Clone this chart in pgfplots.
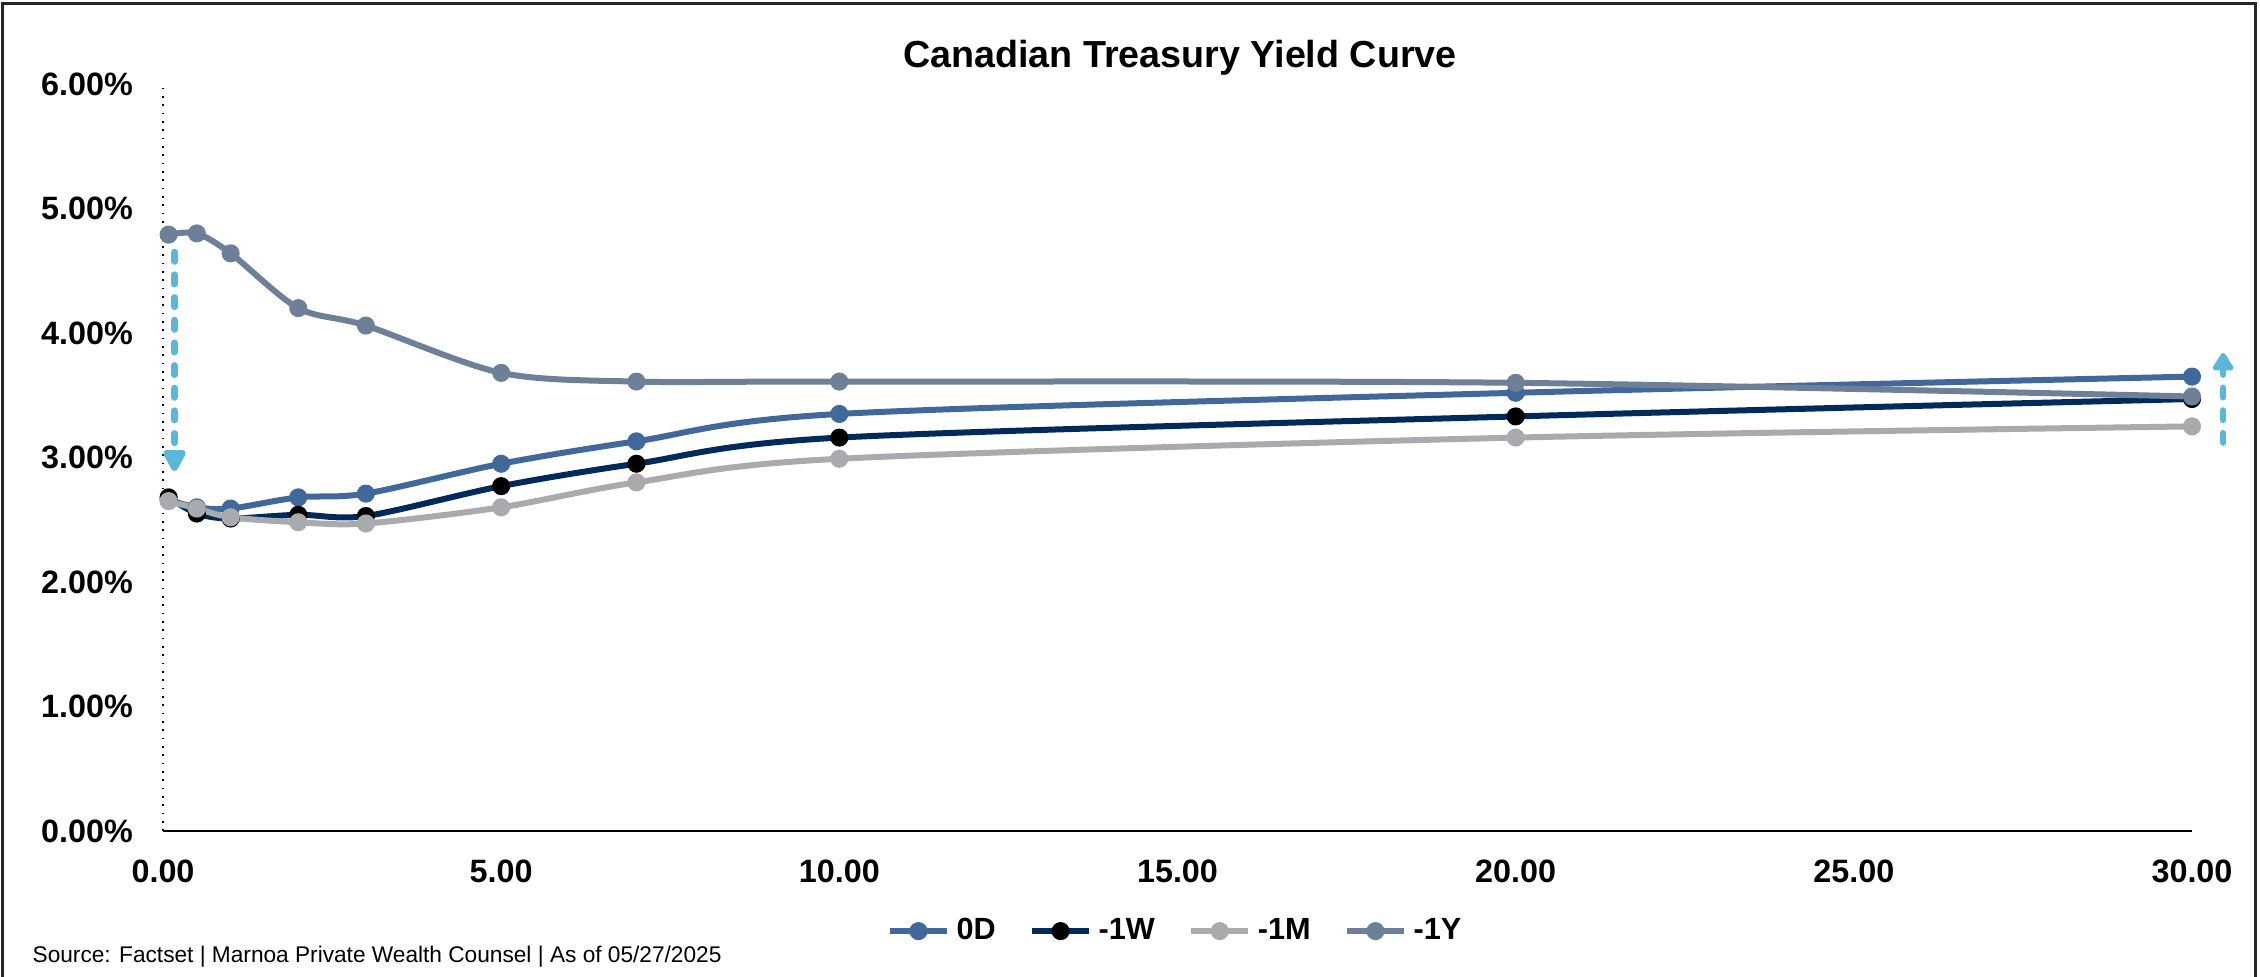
\documentclass[border=0pt]{standalone}
\usepackage{pgfplots}
\pgfplotsset{compat=1.18}
\usetikzlibrary{arrows.meta}
\usepackage{fontspec}
\setmainfont{Liberation Sans}

\definecolor{cD}{HTML}{41689B}
\definecolor{cW}{HTML}{002A5A}
\definecolor{cM}{HTML}{A8AAAE}
\definecolor{cY}{HTML}{6D8098}
\definecolor{cArrow}{HTML}{5BB7DA}

\begin{document}
\begin{tikzpicture}
% chart area and its frame
\path[use as bounding box] (0,0) rectangle (678pt,292.8pt);
\draw[line width=0.9pt, black!85] (0.9pt,-2pt) -- (0.9pt,291.9pt) -- (676.5pt,291.9pt) -- (676.5pt,-2pt);

\node[font=\bfseries\fontsize{11.3}{13}\selectfont] at (354pt,275.4pt) {Canadian Treasury Yield Curve};
\node[font=\fontsize{6.8}{8}\selectfont, anchor=west, inner sep=0pt] at (9.6pt,5.7pt) {Source: Factset | Marnoa Private Wealth Counsel | As of 05/27/2025};

\begin{axis}[
  at={(48.9pt,43.5pt)}, anchor=south west,
  scale only axis, width=608.7pt, height=224.1pt,
  xmin=0, xmax=30, ymin=0, ymax=6,
  clip=false,
  axis lines=left,
  x axis line style={-, black, line width=0.7pt},
  y axis line style={-, black, dotted, line width=0.5pt},
  major tick length=0pt,
  xtick={0,5,10,15,20,25,30},
  ytick={0,1,2,3,4,5,6},
  /pgf/number format/assume math mode=true,
  xticklabel={\pgfmathprintnumber[fixed,fixed zerofill,precision=2]{\tick}},
  yticklabel={\pgfmathprintnumber[fixed,fixed zerofill,precision=2]{\tick}\%},
  tick label style={font=\bfseries\fontsize{9.7}{12}\selectfont},
  yticklabel style={xshift=-5.5pt},
  xticklabel style={yshift=-5pt},
  legend columns=4,
  legend style={at={(0.5,-0.134)}, anchor=center, draw=none, fill=none,
    font=\bfseries\fontsize{9.2}{11}\selectfont,
    /tikz/every odd column/.append style={column sep=0pt},
    /tikz/every even column/.append style={column sep=8pt}},
  legend image code/.code={
    \draw[mark repeat=2,mark phase=2,#1] plot coordinates {(0cm,0cm) (0.3cm,0cm) (0.6cm,0cm)};},
  every axis plot/.append style={line width=1.8pt, smooth},
]
\addplot[cD, mark=*, mark options={fill=cD, draw=cD, scale=0.9}] coordinates {
 (0.083,2.66) (0.5,2.60) (1,2.59) (2,2.68) (3,2.71) (5,2.95) (7,3.13) (10,3.35) (20,3.52) (30,3.65)};
\addlegendentry{0D}
\addplot[cW, mark=*, mark options={fill=black, draw=black, scale=0.9}] coordinates {
 (0.083,2.68) (0.5,2.55) (1,2.51) (2,2.54) (3,2.53) (5,2.77) (7,2.95) (10,3.16) (20,3.33) (30,3.47)};
\addlegendentry{-1W}
\addplot[cM, mark=*, mark options={fill=cM, draw=cM, scale=0.9}] coordinates {
 (0.083,2.65) (0.5,2.59) (1,2.52) (2,2.48) (3,2.47) (5,2.60) (7,2.80) (10,2.99) (20,3.16) (30,3.25)};
\addlegendentry{-1M}
\addplot[cY, mark=*, mark options={fill=cY, draw=cY, scale=0.9}] coordinates {
 (0.083,4.79) (0.5,4.80) (1,4.64) (2,4.20) (3,4.06) (5,3.68) (7,3.61) (10,3.61) (20,3.60) (30,3.49)};
\addlegendentry{-1Y}

% shift arrows
\addplot[cArrow, line width=2pt, sharp plot, line cap=round, dash pattern=on 2.8pt off 4pt,
  -{Triangle[length=7.5pt,width=7.5pt,round=false]}, forget plot] coordinates {(0.17,4.65) (0.17,2.89)};
\addplot[cArrow, line width=2pt, sharp plot, line cap=round, dash pattern=on 2.8pt off 4pt,
  -{Triangle[length=6pt,width=7pt,round=false]}, forget plot] coordinates {(30.46,3.12) (30.46,3.84)};
\end{axis}
\end{tikzpicture}
\end{document}
